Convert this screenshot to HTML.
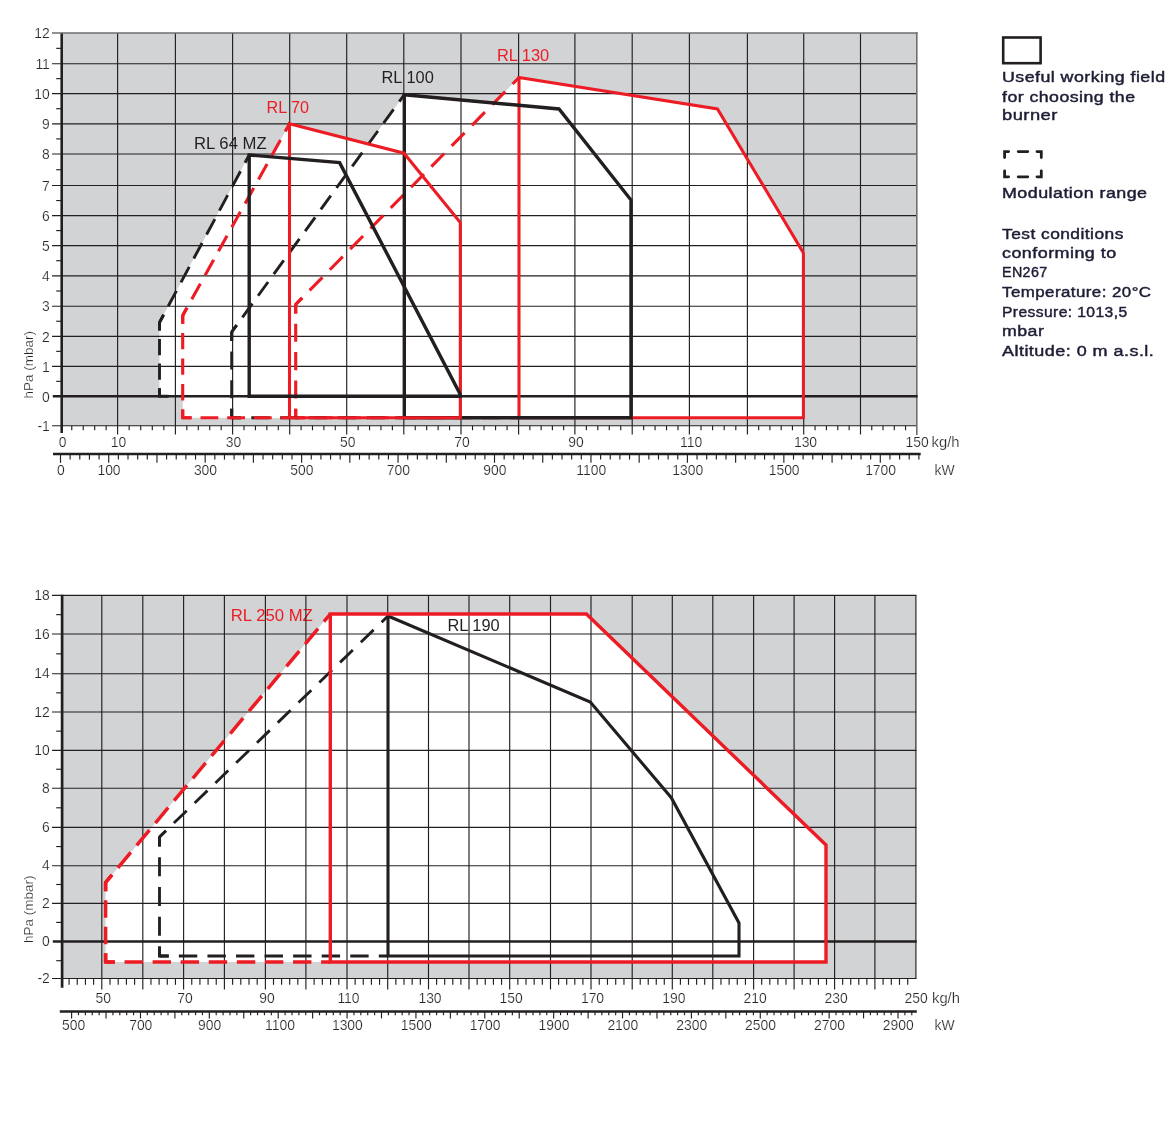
<!DOCTYPE html>
<html><head><meta charset="utf-8"><title>Working fields</title>
<style>
html,body{margin:0;padding:0;background:#fff;}
body{width:1170px;height:1122px;overflow:hidden;font-family:"Liberation Sans",sans-serif;}
svg{display:block;will-change:transform;}
svg text{font-family:"Liberation Sans",sans-serif;}
</style></head><body>
<svg width="1170" height="1122" viewBox="0 0 1170 1122">
<g id="chart1">
<rect x="61.6" y="33.0" width="855.2" height="392.7" fill="#d1d3d4"/>
<polygon points="249.2,396.3 159.5,396.3 159.5,322.5 249.2,155.0 339.6,162.6 460.3,394.5 460.3,396.3 249.2,396.3" fill="#fff"/>
<polygon points="289.5,417.8 182.7,417.8 182.7,315.5 289.5,123.7 404.0,153.2 460.3,222.5 460.3,417.8 289.5,417.8" fill="#fff"/>
<polygon points="404.3,417.8 231.7,417.8 231.7,332.0 404.3,94.7 559.0,109.0 631.0,200.0 631.0,417.8 404.3,417.8" fill="#fff"/>
<polygon points="519.0,417.8 295.7,417.8 295.7,304.5 519.0,77.5 717.5,109.0 803.4,253.0 803.4,417.8 519.0,417.8" fill="#fff"/>
<text x="194" y="148.7" font-size="16.3" fill="#231f20" textLength="72.7" lengthAdjust="spacingAndGlyphs">RL 64 MZ</text>
<text x="266.5" y="112.9" font-size="16.3" fill="#ed1c24" textLength="42.5" lengthAdjust="spacingAndGlyphs">RL 70</text>
<text x="381.5" y="82.6" font-size="16.3" fill="#231f20" textLength="52.3" lengthAdjust="spacingAndGlyphs">RL 100</text>
<text x="496.9" y="60.8" font-size="16.3" fill="#ed1c24" textLength="52.3" lengthAdjust="spacingAndGlyphs">RL 130</text>
<line x1="117.60" y1="33.00" x2="117.60" y2="425.70" stroke="#231f20" stroke-width="1.15"/>
<line x1="175.40" y1="33.00" x2="175.40" y2="425.70" stroke="#231f20" stroke-width="1.15"/>
<line x1="232.60" y1="33.00" x2="232.60" y2="425.70" stroke="#231f20" stroke-width="1.15"/>
<line x1="289.70" y1="33.00" x2="289.70" y2="425.70" stroke="#231f20" stroke-width="1.15"/>
<line x1="346.70" y1="33.00" x2="346.70" y2="425.70" stroke="#231f20" stroke-width="1.15"/>
<line x1="403.80" y1="33.00" x2="403.80" y2="425.70" stroke="#231f20" stroke-width="1.15"/>
<line x1="461.00" y1="33.00" x2="461.00" y2="425.70" stroke="#231f20" stroke-width="1.15"/>
<line x1="518.60" y1="33.00" x2="518.60" y2="425.70" stroke="#231f20" stroke-width="1.15"/>
<line x1="574.90" y1="33.00" x2="574.90" y2="425.70" stroke="#231f20" stroke-width="1.15"/>
<line x1="632.20" y1="33.00" x2="632.20" y2="425.70" stroke="#231f20" stroke-width="1.15"/>
<line x1="689.40" y1="33.00" x2="689.40" y2="425.70" stroke="#231f20" stroke-width="1.15"/>
<line x1="747.40" y1="33.00" x2="747.40" y2="425.70" stroke="#231f20" stroke-width="1.15"/>
<line x1="803.70" y1="33.00" x2="803.70" y2="425.70" stroke="#231f20" stroke-width="1.15"/>
<line x1="860.50" y1="33.00" x2="860.50" y2="425.70" stroke="#231f20" stroke-width="1.15"/>
<line x1="916.80" y1="32.30" x2="916.80" y2="435.00" stroke="#6d6e71" stroke-width="1.6"/>
<line x1="52.00" y1="425.70" x2="916.00" y2="425.70" stroke="#231f20" stroke-width="1.15"/>
<line x1="52.00" y1="366.40" x2="916.00" y2="366.40" stroke="#231f20" stroke-width="1.15"/>
<line x1="52.00" y1="336.30" x2="916.00" y2="336.30" stroke="#231f20" stroke-width="1.15"/>
<line x1="52.00" y1="306.20" x2="916.00" y2="306.20" stroke="#231f20" stroke-width="1.15"/>
<line x1="52.00" y1="275.80" x2="916.00" y2="275.80" stroke="#231f20" stroke-width="1.15"/>
<line x1="52.00" y1="245.60" x2="916.00" y2="245.60" stroke="#231f20" stroke-width="1.15"/>
<line x1="52.00" y1="215.60" x2="916.00" y2="215.60" stroke="#231f20" stroke-width="1.15"/>
<line x1="52.00" y1="185.50" x2="916.00" y2="185.50" stroke="#231f20" stroke-width="1.15"/>
<line x1="52.00" y1="154.00" x2="916.00" y2="154.00" stroke="#231f20" stroke-width="1.15"/>
<line x1="52.00" y1="123.80" x2="916.00" y2="123.80" stroke="#231f20" stroke-width="1.15"/>
<line x1="52.00" y1="93.60" x2="916.00" y2="93.60" stroke="#231f20" stroke-width="1.15"/>
<line x1="52.00" y1="63.70" x2="916.00" y2="63.70" stroke="#231f20" stroke-width="1.15"/>
<line x1="52.00" y1="33.00" x2="917.60" y2="33.00" stroke="#6d6e71" stroke-width="1.5"/>
<line x1="56.20" y1="381.35" x2="61.60" y2="381.35" stroke="#231f20" stroke-width="1.15"/>
<line x1="56.20" y1="351.35" x2="61.60" y2="351.35" stroke="#231f20" stroke-width="1.15"/>
<line x1="56.20" y1="321.25" x2="61.60" y2="321.25" stroke="#231f20" stroke-width="1.15"/>
<line x1="56.20" y1="291.00" x2="61.60" y2="291.00" stroke="#231f20" stroke-width="1.15"/>
<line x1="56.20" y1="260.70" x2="61.60" y2="260.70" stroke="#231f20" stroke-width="1.15"/>
<line x1="56.20" y1="230.60" x2="61.60" y2="230.60" stroke="#231f20" stroke-width="1.15"/>
<line x1="56.20" y1="200.55" x2="61.60" y2="200.55" stroke="#231f20" stroke-width="1.15"/>
<line x1="56.20" y1="169.75" x2="61.60" y2="169.75" stroke="#231f20" stroke-width="1.15"/>
<line x1="56.20" y1="138.90" x2="61.60" y2="138.90" stroke="#231f20" stroke-width="1.15"/>
<line x1="56.20" y1="108.70" x2="61.60" y2="108.70" stroke="#231f20" stroke-width="1.15"/>
<line x1="56.20" y1="78.65" x2="61.60" y2="78.65" stroke="#231f20" stroke-width="1.15"/>
<line x1="56.20" y1="48.35" x2="61.60" y2="48.35" stroke="#231f20" stroke-width="1.15"/>
<line x1="61.70" y1="33.60" x2="61.70" y2="433.00" stroke="#231f20" stroke-width="2.6"/>
<line x1="71.76" y1="425.70" x2="71.76" y2="430.30" stroke="#231f20" stroke-width="1.15"/>
<line x1="83.22" y1="425.70" x2="83.22" y2="430.30" stroke="#231f20" stroke-width="1.15"/>
<line x1="94.68" y1="425.70" x2="94.68" y2="430.30" stroke="#231f20" stroke-width="1.15"/>
<line x1="106.14" y1="425.70" x2="106.14" y2="430.30" stroke="#231f20" stroke-width="1.15"/>
<line x1="117.60" y1="425.70" x2="117.60" y2="434.50" stroke="#231f20" stroke-width="1.15"/>
<line x1="129.16" y1="425.70" x2="129.16" y2="430.30" stroke="#231f20" stroke-width="1.15"/>
<line x1="140.72" y1="425.70" x2="140.72" y2="430.30" stroke="#231f20" stroke-width="1.15"/>
<line x1="152.28" y1="425.70" x2="152.28" y2="430.30" stroke="#231f20" stroke-width="1.15"/>
<line x1="163.84" y1="425.70" x2="163.84" y2="430.30" stroke="#231f20" stroke-width="1.15"/>
<line x1="175.40" y1="425.70" x2="175.40" y2="434.50" stroke="#231f20" stroke-width="1.15"/>
<line x1="186.84" y1="425.70" x2="186.84" y2="430.30" stroke="#231f20" stroke-width="1.15"/>
<line x1="198.28" y1="425.70" x2="198.28" y2="430.30" stroke="#231f20" stroke-width="1.15"/>
<line x1="209.72" y1="425.70" x2="209.72" y2="430.30" stroke="#231f20" stroke-width="1.15"/>
<line x1="221.16" y1="425.70" x2="221.16" y2="430.30" stroke="#231f20" stroke-width="1.15"/>
<line x1="232.60" y1="425.70" x2="232.60" y2="434.50" stroke="#231f20" stroke-width="1.15"/>
<line x1="244.02" y1="425.70" x2="244.02" y2="430.30" stroke="#231f20" stroke-width="1.15"/>
<line x1="255.44" y1="425.70" x2="255.44" y2="430.30" stroke="#231f20" stroke-width="1.15"/>
<line x1="266.86" y1="425.70" x2="266.86" y2="430.30" stroke="#231f20" stroke-width="1.15"/>
<line x1="278.28" y1="425.70" x2="278.28" y2="430.30" stroke="#231f20" stroke-width="1.15"/>
<line x1="289.70" y1="425.70" x2="289.70" y2="434.50" stroke="#231f20" stroke-width="1.15"/>
<line x1="301.10" y1="425.70" x2="301.10" y2="430.30" stroke="#231f20" stroke-width="1.15"/>
<line x1="312.50" y1="425.70" x2="312.50" y2="430.30" stroke="#231f20" stroke-width="1.15"/>
<line x1="323.90" y1="425.70" x2="323.90" y2="430.30" stroke="#231f20" stroke-width="1.15"/>
<line x1="335.30" y1="425.70" x2="335.30" y2="430.30" stroke="#231f20" stroke-width="1.15"/>
<line x1="346.70" y1="425.70" x2="346.70" y2="434.50" stroke="#231f20" stroke-width="1.15"/>
<line x1="358.12" y1="425.70" x2="358.12" y2="430.30" stroke="#231f20" stroke-width="1.15"/>
<line x1="369.54" y1="425.70" x2="369.54" y2="430.30" stroke="#231f20" stroke-width="1.15"/>
<line x1="380.96" y1="425.70" x2="380.96" y2="430.30" stroke="#231f20" stroke-width="1.15"/>
<line x1="392.38" y1="425.70" x2="392.38" y2="430.30" stroke="#231f20" stroke-width="1.15"/>
<line x1="403.80" y1="425.70" x2="403.80" y2="434.50" stroke="#231f20" stroke-width="1.15"/>
<line x1="415.24" y1="425.70" x2="415.24" y2="430.30" stroke="#231f20" stroke-width="1.15"/>
<line x1="426.68" y1="425.70" x2="426.68" y2="430.30" stroke="#231f20" stroke-width="1.15"/>
<line x1="438.12" y1="425.70" x2="438.12" y2="430.30" stroke="#231f20" stroke-width="1.15"/>
<line x1="449.56" y1="425.70" x2="449.56" y2="430.30" stroke="#231f20" stroke-width="1.15"/>
<line x1="461.00" y1="425.70" x2="461.00" y2="434.50" stroke="#231f20" stroke-width="1.15"/>
<line x1="472.52" y1="425.70" x2="472.52" y2="430.30" stroke="#231f20" stroke-width="1.15"/>
<line x1="484.04" y1="425.70" x2="484.04" y2="430.30" stroke="#231f20" stroke-width="1.15"/>
<line x1="495.56" y1="425.70" x2="495.56" y2="430.30" stroke="#231f20" stroke-width="1.15"/>
<line x1="507.08" y1="425.70" x2="507.08" y2="430.30" stroke="#231f20" stroke-width="1.15"/>
<line x1="518.60" y1="425.70" x2="518.60" y2="434.50" stroke="#231f20" stroke-width="1.15"/>
<line x1="529.86" y1="425.70" x2="529.86" y2="430.30" stroke="#231f20" stroke-width="1.15"/>
<line x1="541.12" y1="425.70" x2="541.12" y2="430.30" stroke="#231f20" stroke-width="1.15"/>
<line x1="552.38" y1="425.70" x2="552.38" y2="430.30" stroke="#231f20" stroke-width="1.15"/>
<line x1="563.64" y1="425.70" x2="563.64" y2="430.30" stroke="#231f20" stroke-width="1.15"/>
<line x1="574.90" y1="425.70" x2="574.90" y2="434.50" stroke="#231f20" stroke-width="1.15"/>
<line x1="586.36" y1="425.70" x2="586.36" y2="430.30" stroke="#231f20" stroke-width="1.15"/>
<line x1="597.82" y1="425.70" x2="597.82" y2="430.30" stroke="#231f20" stroke-width="1.15"/>
<line x1="609.28" y1="425.70" x2="609.28" y2="430.30" stroke="#231f20" stroke-width="1.15"/>
<line x1="620.74" y1="425.70" x2="620.74" y2="430.30" stroke="#231f20" stroke-width="1.15"/>
<line x1="632.20" y1="425.70" x2="632.20" y2="434.50" stroke="#231f20" stroke-width="1.15"/>
<line x1="643.64" y1="425.70" x2="643.64" y2="430.30" stroke="#231f20" stroke-width="1.15"/>
<line x1="655.08" y1="425.70" x2="655.08" y2="430.30" stroke="#231f20" stroke-width="1.15"/>
<line x1="666.52" y1="425.70" x2="666.52" y2="430.30" stroke="#231f20" stroke-width="1.15"/>
<line x1="677.96" y1="425.70" x2="677.96" y2="430.30" stroke="#231f20" stroke-width="1.15"/>
<line x1="689.40" y1="425.70" x2="689.40" y2="434.50" stroke="#231f20" stroke-width="1.15"/>
<line x1="701.00" y1="425.70" x2="701.00" y2="430.30" stroke="#231f20" stroke-width="1.15"/>
<line x1="712.60" y1="425.70" x2="712.60" y2="430.30" stroke="#231f20" stroke-width="1.15"/>
<line x1="724.20" y1="425.70" x2="724.20" y2="430.30" stroke="#231f20" stroke-width="1.15"/>
<line x1="735.80" y1="425.70" x2="735.80" y2="430.30" stroke="#231f20" stroke-width="1.15"/>
<line x1="747.40" y1="425.70" x2="747.40" y2="434.50" stroke="#231f20" stroke-width="1.15"/>
<line x1="758.66" y1="425.70" x2="758.66" y2="430.30" stroke="#231f20" stroke-width="1.15"/>
<line x1="769.92" y1="425.70" x2="769.92" y2="430.30" stroke="#231f20" stroke-width="1.15"/>
<line x1="781.18" y1="425.70" x2="781.18" y2="430.30" stroke="#231f20" stroke-width="1.15"/>
<line x1="792.44" y1="425.70" x2="792.44" y2="430.30" stroke="#231f20" stroke-width="1.15"/>
<line x1="803.70" y1="425.70" x2="803.70" y2="434.50" stroke="#231f20" stroke-width="1.15"/>
<line x1="815.06" y1="425.70" x2="815.06" y2="430.30" stroke="#231f20" stroke-width="1.15"/>
<line x1="826.42" y1="425.70" x2="826.42" y2="430.30" stroke="#231f20" stroke-width="1.15"/>
<line x1="837.78" y1="425.70" x2="837.78" y2="430.30" stroke="#231f20" stroke-width="1.15"/>
<line x1="849.14" y1="425.70" x2="849.14" y2="430.30" stroke="#231f20" stroke-width="1.15"/>
<line x1="860.50" y1="425.70" x2="860.50" y2="434.50" stroke="#231f20" stroke-width="1.15"/>
<line x1="871.76" y1="425.70" x2="871.76" y2="430.30" stroke="#231f20" stroke-width="1.15"/>
<line x1="883.02" y1="425.70" x2="883.02" y2="430.30" stroke="#231f20" stroke-width="1.15"/>
<line x1="894.28" y1="425.70" x2="894.28" y2="430.30" stroke="#231f20" stroke-width="1.15"/>
<line x1="905.54" y1="425.70" x2="905.54" y2="430.30" stroke="#231f20" stroke-width="1.15"/>
<line x1="52.80" y1="396.30" x2="917.60" y2="396.30" stroke="#231f20" stroke-width="2.4"/>
</g>
<g id="curves1">
<line x1="519.0" y1="417.8" x2="295.7" y2="417.8" stroke="#ed1c24" stroke-width="3.1" stroke-dasharray="18.20 9.71" stroke-dashoffset="9.10"/>
<line x1="295.7" y1="417.8" x2="295.7" y2="304.5" stroke="#ed1c24" stroke-width="3.1" stroke-dasharray="18.08 10.25" stroke-dashoffset="9.04"/>
<line x1="295.7" y1="304.5" x2="519.0" y2="77.5" stroke="#ed1c24" stroke-width="3.1" stroke-dasharray="18.40 10.55" stroke-dashoffset="9.20"/>
<polyline points="304.8,417.8 295.7,417.8 295.7,408.8" fill="none" stroke="#ed1c24" stroke-width="3.1" stroke-linejoin="miter"/>
<polyline points="295.7,313.5 295.7,304.5 302.2,297.9" fill="none" stroke="#ed1c24" stroke-width="3.1" stroke-linejoin="miter"/>
<polygon points="519.0,77.5 717.5,109.0 803.4,253.0 803.4,417.8 519.0,417.8" fill="none" stroke="#ed1c24" stroke-width="3.05" stroke-linejoin="miter"/>
<line x1="404.3" y1="417.8" x2="231.7" y2="417.8" stroke="#231f20" stroke-width="2.9" stroke-dasharray="18.17 10.60" stroke-dashoffset="9.08"/>
<line x1="231.7" y1="417.8" x2="231.7" y2="332.0" stroke="#231f20" stroke-width="2.9" stroke-dasharray="18.01 10.59" stroke-dashoffset="9.01"/>
<line x1="231.7" y1="332.0" x2="404.3" y2="94.7" stroke="#231f20" stroke-width="2.9" stroke-dasharray="16.98 9.69" stroke-dashoffset="8.49"/>
<polyline points="240.8,417.8 231.7,417.8 231.7,408.8" fill="none" stroke="#231f20" stroke-width="2.9" stroke-linejoin="miter"/>
<polyline points="231.7,341.0 231.7,332.0 236.7,325.1" fill="none" stroke="#231f20" stroke-width="2.9" stroke-linejoin="miter"/>
<polygon points="404.3,94.7 559.0,109.0 631.0,200.0 631.0,417.8 404.3,417.8" fill="none" stroke="#231f20" stroke-width="3.4" stroke-linejoin="miter"/>
<line x1="289.5" y1="417.8" x2="182.7" y2="417.8" stroke="#ed1c24" stroke-width="3.1" stroke-dasharray="17.80 8.90" stroke-dashoffset="8.90"/>
<line x1="182.7" y1="417.8" x2="182.7" y2="315.5" stroke="#ed1c24" stroke-width="3.1" stroke-dasharray="16.36 9.22" stroke-dashoffset="8.18"/>
<line x1="182.7" y1="315.5" x2="289.5" y2="123.7" stroke="#ed1c24" stroke-width="3.1" stroke-dasharray="17.73 9.71" stroke-dashoffset="8.87"/>
<polyline points="191.6,417.8 182.7,417.8 182.7,409.6" fill="none" stroke="#ed1c24" stroke-width="3.1" stroke-linejoin="miter"/>
<polyline points="182.7,323.7 182.7,315.5 187.0,307.8" fill="none" stroke="#ed1c24" stroke-width="3.1" stroke-linejoin="miter"/>
<polygon points="289.5,123.7 404.0,153.2 460.3,222.5 460.3,417.8 289.5,417.8" fill="none" stroke="#ed1c24" stroke-width="3.05" stroke-linejoin="miter"/>
<line x1="159.5" y1="396.3" x2="159.5" y2="322.5" stroke="#231f20" stroke-width="2.9" stroke-dasharray="16.17 8.43" stroke-dashoffset="8.08"/>
<line x1="159.5" y1="322.5" x2="249.2" y2="155.0" stroke="#231f20" stroke-width="2.9" stroke-dasharray="17.53 9.61" stroke-dashoffset="8.77"/>
<polyline points="168.5,396.3 159.5,396.3 159.5,388.2" fill="none" stroke="#231f20" stroke-width="2.9" stroke-linejoin="miter"/>
<polyline points="159.5,330.6 159.5,322.5 163.6,314.8" fill="none" stroke="#231f20" stroke-width="2.9" stroke-linejoin="miter"/>
<polygon points="249.2,155.0 339.6,162.6 460.3,394.5 460.3,396.3 249.2,396.3" fill="none" stroke="#231f20" stroke-width="3.4" stroke-linejoin="miter"/>
</g>
<g id="labels1">
<text x="49.80" y="430.90" font-size="13.9" text-anchor="end" fill="#262628" stroke="#fff" stroke-width="0.2">-1</text>
<text x="49.80" y="401.50" font-size="13.9" text-anchor="end" fill="#262628" stroke="#fff" stroke-width="0.2">0</text>
<text x="49.80" y="371.60" font-size="13.9" text-anchor="end" fill="#262628" stroke="#fff" stroke-width="0.2">1</text>
<text x="49.80" y="341.50" font-size="13.9" text-anchor="end" fill="#262628" stroke="#fff" stroke-width="0.2">2</text>
<text x="49.80" y="311.40" font-size="13.9" text-anchor="end" fill="#262628" stroke="#fff" stroke-width="0.2">3</text>
<text x="49.80" y="281.00" font-size="13.9" text-anchor="end" fill="#262628" stroke="#fff" stroke-width="0.2">4</text>
<text x="49.80" y="250.80" font-size="13.9" text-anchor="end" fill="#262628" stroke="#fff" stroke-width="0.2">5</text>
<text x="49.80" y="220.80" font-size="13.9" text-anchor="end" fill="#262628" stroke="#fff" stroke-width="0.2">6</text>
<text x="49.80" y="190.70" font-size="13.9" text-anchor="end" fill="#262628" stroke="#fff" stroke-width="0.2">7</text>
<text x="49.80" y="159.20" font-size="13.9" text-anchor="end" fill="#262628" stroke="#fff" stroke-width="0.2">8</text>
<text x="49.80" y="129.00" font-size="13.9" text-anchor="end" fill="#262628" stroke="#fff" stroke-width="0.2">9</text>
<text x="49.80" y="98.80" font-size="13.9" text-anchor="end" fill="#262628" stroke="#fff" stroke-width="0.2">10</text>
<text x="49.80" y="68.90" font-size="13.9" text-anchor="end" fill="#262628" stroke="#fff" stroke-width="0.2">11</text>
<text x="49.80" y="38.20" font-size="13.9" text-anchor="end" fill="#262628" stroke="#fff" stroke-width="0.2">12</text>
<text x="62.60" y="447.20" font-size="13.9" text-anchor="middle" fill="#262628" stroke="#fff" stroke-width="0.2">0</text>
<text x="118.60" y="447.20" font-size="13.9" text-anchor="middle" fill="#262628" stroke="#fff" stroke-width="0.2">10</text>
<text x="233.60" y="447.20" font-size="13.9" text-anchor="middle" fill="#262628" stroke="#fff" stroke-width="0.2">30</text>
<text x="347.70" y="447.20" font-size="13.9" text-anchor="middle" fill="#262628" stroke="#fff" stroke-width="0.2">50</text>
<text x="462.00" y="447.20" font-size="13.9" text-anchor="middle" fill="#262628" stroke="#fff" stroke-width="0.2">70</text>
<text x="575.90" y="447.20" font-size="13.9" text-anchor="middle" fill="#262628" stroke="#fff" stroke-width="0.2">90</text>
<text x="691.20" y="447.20" font-size="13.9" text-anchor="middle" fill="#262628" stroke="#fff" stroke-width="0.2">110</text>
<text x="805.50" y="447.20" font-size="13.9" text-anchor="middle" fill="#262628" stroke="#fff" stroke-width="0.2">130</text>
<text x="928.70" y="447.20" font-size="13.9" text-anchor="end" fill="#262628" stroke="#fff" stroke-width="0.2">150</text>
<text x="931.60" y="447.20" font-size="13.9" text-anchor="start" fill="#262628" stroke="#fff" stroke-width="0.2" textLength="27.9" lengthAdjust="spacingAndGlyphs">kg/h</text>
<line x1="53.00" y1="454.10" x2="920.70" y2="454.10" stroke="#231f20" stroke-width="2.5"/>
<line x1="60.50" y1="454.10" x2="60.50" y2="462.80" stroke="#231f20" stroke-width="1.15"/>
<line x1="70.14" y1="454.10" x2="70.14" y2="459.60" stroke="#231f20" stroke-width="1.15"/>
<line x1="79.79" y1="454.10" x2="79.79" y2="459.60" stroke="#231f20" stroke-width="1.15"/>
<line x1="89.43" y1="454.10" x2="89.43" y2="459.60" stroke="#231f20" stroke-width="1.15"/>
<line x1="99.08" y1="454.10" x2="99.08" y2="459.60" stroke="#231f20" stroke-width="1.15"/>
<line x1="108.72" y1="454.10" x2="108.72" y2="462.80" stroke="#231f20" stroke-width="1.15"/>
<line x1="118.37" y1="454.10" x2="118.37" y2="459.60" stroke="#231f20" stroke-width="1.15"/>
<line x1="128.01" y1="454.10" x2="128.01" y2="459.60" stroke="#231f20" stroke-width="1.15"/>
<line x1="137.66" y1="454.10" x2="137.66" y2="459.60" stroke="#231f20" stroke-width="1.15"/>
<line x1="147.30" y1="454.10" x2="147.30" y2="459.60" stroke="#231f20" stroke-width="1.15"/>
<line x1="156.95" y1="454.10" x2="156.95" y2="462.80" stroke="#231f20" stroke-width="1.15"/>
<line x1="166.59" y1="454.10" x2="166.59" y2="459.60" stroke="#231f20" stroke-width="1.15"/>
<line x1="176.24" y1="454.10" x2="176.24" y2="459.60" stroke="#231f20" stroke-width="1.15"/>
<line x1="185.88" y1="454.10" x2="185.88" y2="459.60" stroke="#231f20" stroke-width="1.15"/>
<line x1="195.53" y1="454.10" x2="195.53" y2="459.60" stroke="#231f20" stroke-width="1.15"/>
<line x1="205.17" y1="454.10" x2="205.17" y2="462.80" stroke="#231f20" stroke-width="1.15"/>
<line x1="214.82" y1="454.10" x2="214.82" y2="459.60" stroke="#231f20" stroke-width="1.15"/>
<line x1="224.46" y1="454.10" x2="224.46" y2="459.60" stroke="#231f20" stroke-width="1.15"/>
<line x1="234.10" y1="454.10" x2="234.10" y2="459.60" stroke="#231f20" stroke-width="1.15"/>
<line x1="243.75" y1="454.10" x2="243.75" y2="459.60" stroke="#231f20" stroke-width="1.15"/>
<line x1="253.39" y1="454.10" x2="253.39" y2="462.80" stroke="#231f20" stroke-width="1.15"/>
<line x1="263.04" y1="454.10" x2="263.04" y2="459.60" stroke="#231f20" stroke-width="1.15"/>
<line x1="272.68" y1="454.10" x2="272.68" y2="459.60" stroke="#231f20" stroke-width="1.15"/>
<line x1="282.33" y1="454.10" x2="282.33" y2="459.60" stroke="#231f20" stroke-width="1.15"/>
<line x1="291.97" y1="454.10" x2="291.97" y2="459.60" stroke="#231f20" stroke-width="1.15"/>
<line x1="301.62" y1="454.10" x2="301.62" y2="462.80" stroke="#231f20" stroke-width="1.15"/>
<line x1="311.26" y1="454.10" x2="311.26" y2="459.60" stroke="#231f20" stroke-width="1.15"/>
<line x1="320.91" y1="454.10" x2="320.91" y2="459.60" stroke="#231f20" stroke-width="1.15"/>
<line x1="330.55" y1="454.10" x2="330.55" y2="459.60" stroke="#231f20" stroke-width="1.15"/>
<line x1="340.20" y1="454.10" x2="340.20" y2="459.60" stroke="#231f20" stroke-width="1.15"/>
<line x1="349.84" y1="454.10" x2="349.84" y2="462.80" stroke="#231f20" stroke-width="1.15"/>
<line x1="359.49" y1="454.10" x2="359.49" y2="459.60" stroke="#231f20" stroke-width="1.15"/>
<line x1="369.13" y1="454.10" x2="369.13" y2="459.60" stroke="#231f20" stroke-width="1.15"/>
<line x1="378.78" y1="454.10" x2="378.78" y2="459.60" stroke="#231f20" stroke-width="1.15"/>
<line x1="388.42" y1="454.10" x2="388.42" y2="459.60" stroke="#231f20" stroke-width="1.15"/>
<line x1="398.06" y1="454.10" x2="398.06" y2="462.80" stroke="#231f20" stroke-width="1.15"/>
<line x1="407.71" y1="454.10" x2="407.71" y2="459.60" stroke="#231f20" stroke-width="1.15"/>
<line x1="417.35" y1="454.10" x2="417.35" y2="459.60" stroke="#231f20" stroke-width="1.15"/>
<line x1="427.00" y1="454.10" x2="427.00" y2="459.60" stroke="#231f20" stroke-width="1.15"/>
<line x1="436.64" y1="454.10" x2="436.64" y2="459.60" stroke="#231f20" stroke-width="1.15"/>
<line x1="446.29" y1="454.10" x2="446.29" y2="462.80" stroke="#231f20" stroke-width="1.15"/>
<line x1="455.93" y1="454.10" x2="455.93" y2="459.60" stroke="#231f20" stroke-width="1.15"/>
<line x1="465.58" y1="454.10" x2="465.58" y2="459.60" stroke="#231f20" stroke-width="1.15"/>
<line x1="475.22" y1="454.10" x2="475.22" y2="459.60" stroke="#231f20" stroke-width="1.15"/>
<line x1="484.87" y1="454.10" x2="484.87" y2="459.60" stroke="#231f20" stroke-width="1.15"/>
<line x1="494.51" y1="454.10" x2="494.51" y2="462.80" stroke="#231f20" stroke-width="1.15"/>
<line x1="504.16" y1="454.10" x2="504.16" y2="459.60" stroke="#231f20" stroke-width="1.15"/>
<line x1="513.80" y1="454.10" x2="513.80" y2="459.60" stroke="#231f20" stroke-width="1.15"/>
<line x1="523.45" y1="454.10" x2="523.45" y2="459.60" stroke="#231f20" stroke-width="1.15"/>
<line x1="533.09" y1="454.10" x2="533.09" y2="459.60" stroke="#231f20" stroke-width="1.15"/>
<line x1="542.74" y1="454.10" x2="542.74" y2="462.80" stroke="#231f20" stroke-width="1.15"/>
<line x1="552.38" y1="454.10" x2="552.38" y2="459.60" stroke="#231f20" stroke-width="1.15"/>
<line x1="562.02" y1="454.10" x2="562.02" y2="459.60" stroke="#231f20" stroke-width="1.15"/>
<line x1="571.67" y1="454.10" x2="571.67" y2="459.60" stroke="#231f20" stroke-width="1.15"/>
<line x1="581.31" y1="454.10" x2="581.31" y2="459.60" stroke="#231f20" stroke-width="1.15"/>
<line x1="590.96" y1="454.10" x2="590.96" y2="462.80" stroke="#231f20" stroke-width="1.15"/>
<line x1="600.60" y1="454.10" x2="600.60" y2="459.60" stroke="#231f20" stroke-width="1.15"/>
<line x1="610.25" y1="454.10" x2="610.25" y2="459.60" stroke="#231f20" stroke-width="1.15"/>
<line x1="619.89" y1="454.10" x2="619.89" y2="459.60" stroke="#231f20" stroke-width="1.15"/>
<line x1="629.54" y1="454.10" x2="629.54" y2="459.60" stroke="#231f20" stroke-width="1.15"/>
<line x1="639.18" y1="454.10" x2="639.18" y2="462.80" stroke="#231f20" stroke-width="1.15"/>
<line x1="648.83" y1="454.10" x2="648.83" y2="459.60" stroke="#231f20" stroke-width="1.15"/>
<line x1="658.47" y1="454.10" x2="658.47" y2="459.60" stroke="#231f20" stroke-width="1.15"/>
<line x1="668.12" y1="454.10" x2="668.12" y2="459.60" stroke="#231f20" stroke-width="1.15"/>
<line x1="677.76" y1="454.10" x2="677.76" y2="459.60" stroke="#231f20" stroke-width="1.15"/>
<line x1="687.41" y1="454.10" x2="687.41" y2="462.80" stroke="#231f20" stroke-width="1.15"/>
<line x1="697.05" y1="454.10" x2="697.05" y2="459.60" stroke="#231f20" stroke-width="1.15"/>
<line x1="706.70" y1="454.10" x2="706.70" y2="459.60" stroke="#231f20" stroke-width="1.15"/>
<line x1="716.34" y1="454.10" x2="716.34" y2="459.60" stroke="#231f20" stroke-width="1.15"/>
<line x1="725.98" y1="454.10" x2="725.98" y2="459.60" stroke="#231f20" stroke-width="1.15"/>
<line x1="735.63" y1="454.10" x2="735.63" y2="462.80" stroke="#231f20" stroke-width="1.15"/>
<line x1="745.27" y1="454.10" x2="745.27" y2="459.60" stroke="#231f20" stroke-width="1.15"/>
<line x1="754.92" y1="454.10" x2="754.92" y2="459.60" stroke="#231f20" stroke-width="1.15"/>
<line x1="764.56" y1="454.10" x2="764.56" y2="459.60" stroke="#231f20" stroke-width="1.15"/>
<line x1="774.21" y1="454.10" x2="774.21" y2="459.60" stroke="#231f20" stroke-width="1.15"/>
<line x1="783.85" y1="454.10" x2="783.85" y2="462.80" stroke="#231f20" stroke-width="1.15"/>
<line x1="793.50" y1="454.10" x2="793.50" y2="459.60" stroke="#231f20" stroke-width="1.15"/>
<line x1="803.14" y1="454.10" x2="803.14" y2="459.60" stroke="#231f20" stroke-width="1.15"/>
<line x1="812.79" y1="454.10" x2="812.79" y2="459.60" stroke="#231f20" stroke-width="1.15"/>
<line x1="822.43" y1="454.10" x2="822.43" y2="459.60" stroke="#231f20" stroke-width="1.15"/>
<line x1="832.08" y1="454.10" x2="832.08" y2="462.80" stroke="#231f20" stroke-width="1.15"/>
<line x1="841.72" y1="454.10" x2="841.72" y2="459.60" stroke="#231f20" stroke-width="1.15"/>
<line x1="851.37" y1="454.10" x2="851.37" y2="459.60" stroke="#231f20" stroke-width="1.15"/>
<line x1="861.01" y1="454.10" x2="861.01" y2="459.60" stroke="#231f20" stroke-width="1.15"/>
<line x1="870.66" y1="454.10" x2="870.66" y2="459.60" stroke="#231f20" stroke-width="1.15"/>
<line x1="880.30" y1="454.10" x2="880.30" y2="462.80" stroke="#231f20" stroke-width="1.15"/>
<line x1="889.94" y1="454.10" x2="889.94" y2="459.60" stroke="#231f20" stroke-width="1.15"/>
<line x1="899.59" y1="454.10" x2="899.59" y2="459.60" stroke="#231f20" stroke-width="1.15"/>
<line x1="909.23" y1="454.10" x2="909.23" y2="459.60" stroke="#231f20" stroke-width="1.15"/>
<line x1="918.88" y1="454.10" x2="918.88" y2="459.60" stroke="#231f20" stroke-width="1.15"/>
<text x="60.80" y="474.90" font-size="13.9" text-anchor="middle" fill="#262628" stroke="#fff" stroke-width="0.2">0</text>
<text x="109.02" y="474.90" font-size="13.9" text-anchor="middle" fill="#262628" stroke="#fff" stroke-width="0.2">100</text>
<text x="205.47" y="474.90" font-size="13.9" text-anchor="middle" fill="#262628" stroke="#fff" stroke-width="0.2">300</text>
<text x="301.92" y="474.90" font-size="13.9" text-anchor="middle" fill="#262628" stroke="#fff" stroke-width="0.2">500</text>
<text x="398.36" y="474.90" font-size="13.9" text-anchor="middle" fill="#262628" stroke="#fff" stroke-width="0.2">700</text>
<text x="494.81" y="474.90" font-size="13.9" text-anchor="middle" fill="#262628" stroke="#fff" stroke-width="0.2">900</text>
<text x="591.26" y="474.90" font-size="13.9" text-anchor="middle" fill="#262628" stroke="#fff" stroke-width="0.2">1100</text>
<text x="687.71" y="474.90" font-size="13.9" text-anchor="middle" fill="#262628" stroke="#fff" stroke-width="0.2">1300</text>
<text x="784.15" y="474.90" font-size="13.9" text-anchor="middle" fill="#262628" stroke="#fff" stroke-width="0.2">1500</text>
<text x="880.60" y="474.90" font-size="13.9" text-anchor="middle" fill="#262628" stroke="#fff" stroke-width="0.2">1700</text>
<text x="934.50" y="474.90" font-size="13.9" text-anchor="start" fill="#262628" stroke="#fff" stroke-width="0.2">kW</text>
<text transform="translate(32.6,364.8) rotate(-90)" font-size="13.5" text-anchor="middle" fill="#262628" stroke="#fff" stroke-width="0.2">hPa (mbar)</text>
</g>
<g id="chart2">
<rect x="62.0" y="595.3" width="853.9" height="383.2" fill="#d1d3d4"/>
<polygon points="330.3,962.0 105.6,962.0 105.6,882.5 330.3,614.0 586.4,614.0 826.0,845.0 826.0,962.0 330.3,962.0" fill="#fff"/>
<polygon points="388.0,956.0 159.5,956.0 159.5,837.0 388.0,616.0 590.3,702.0 671.3,797.7 739.0,923.0 739.0,956.0 388.0,956.0" fill="#fff"/>
<text x="230.8" y="620.5" font-size="16.3" fill="#ed1c24" textLength="82" lengthAdjust="spacingAndGlyphs">RL 250 MZ</text>
<text x="447.4" y="631" font-size="16.3" fill="#231f20" textLength="52.3" lengthAdjust="spacingAndGlyphs">RL 190</text>
<line x1="101.80" y1="595.30" x2="101.80" y2="978.50" stroke="#231f20" stroke-width="1.15"/>
<line x1="142.80" y1="595.30" x2="142.80" y2="978.50" stroke="#231f20" stroke-width="1.15"/>
<line x1="183.60" y1="595.30" x2="183.60" y2="978.50" stroke="#231f20" stroke-width="1.15"/>
<line x1="224.40" y1="595.30" x2="224.40" y2="978.50" stroke="#231f20" stroke-width="1.15"/>
<line x1="265.40" y1="595.30" x2="265.40" y2="978.50" stroke="#231f20" stroke-width="1.15"/>
<line x1="305.90" y1="595.30" x2="305.90" y2="978.50" stroke="#231f20" stroke-width="1.15"/>
<line x1="347.00" y1="595.30" x2="347.00" y2="978.50" stroke="#231f20" stroke-width="1.15"/>
<line x1="387.70" y1="595.30" x2="387.70" y2="978.50" stroke="#231f20" stroke-width="1.15"/>
<line x1="428.50" y1="595.30" x2="428.50" y2="978.50" stroke="#231f20" stroke-width="1.15"/>
<line x1="469.00" y1="595.30" x2="469.00" y2="978.50" stroke="#231f20" stroke-width="1.15"/>
<line x1="509.70" y1="595.30" x2="509.70" y2="978.50" stroke="#231f20" stroke-width="1.15"/>
<line x1="550.50" y1="595.30" x2="550.50" y2="978.50" stroke="#231f20" stroke-width="1.15"/>
<line x1="591.00" y1="595.30" x2="591.00" y2="978.50" stroke="#231f20" stroke-width="1.15"/>
<line x1="632.20" y1="595.30" x2="632.20" y2="978.50" stroke="#231f20" stroke-width="1.15"/>
<line x1="672.30" y1="595.30" x2="672.30" y2="978.50" stroke="#231f20" stroke-width="1.15"/>
<line x1="712.80" y1="595.30" x2="712.80" y2="978.50" stroke="#231f20" stroke-width="1.15"/>
<line x1="753.60" y1="595.30" x2="753.60" y2="978.50" stroke="#231f20" stroke-width="1.15"/>
<line x1="794.10" y1="595.30" x2="794.10" y2="978.50" stroke="#231f20" stroke-width="1.15"/>
<line x1="834.60" y1="595.30" x2="834.60" y2="978.50" stroke="#231f20" stroke-width="1.15"/>
<line x1="874.90" y1="595.30" x2="874.90" y2="978.50" stroke="#231f20" stroke-width="1.15"/>
<line x1="915.90" y1="595.30" x2="915.90" y2="978.50" stroke="#231f20" stroke-width="1.15"/>
<line x1="52.00" y1="978.50" x2="916.40" y2="978.50" stroke="#231f20" stroke-width="1.15"/>
<line x1="52.00" y1="903.30" x2="916.40" y2="903.30" stroke="#231f20" stroke-width="1.15"/>
<line x1="52.00" y1="865.70" x2="916.40" y2="865.70" stroke="#231f20" stroke-width="1.15"/>
<line x1="52.00" y1="827.40" x2="916.40" y2="827.40" stroke="#231f20" stroke-width="1.15"/>
<line x1="52.00" y1="788.20" x2="916.40" y2="788.20" stroke="#231f20" stroke-width="1.15"/>
<line x1="52.00" y1="750.30" x2="916.40" y2="750.30" stroke="#231f20" stroke-width="1.15"/>
<line x1="52.00" y1="712.00" x2="916.40" y2="712.00" stroke="#231f20" stroke-width="1.15"/>
<line x1="52.00" y1="673.70" x2="916.40" y2="673.70" stroke="#231f20" stroke-width="1.15"/>
<line x1="52.00" y1="634.00" x2="916.40" y2="634.00" stroke="#231f20" stroke-width="1.15"/>
<line x1="52.00" y1="595.30" x2="916.40" y2="595.30" stroke="#231f20" stroke-width="1.15"/>
<line x1="56.20" y1="922.40" x2="62.00" y2="922.40" stroke="#231f20" stroke-width="1.15"/>
<line x1="56.20" y1="884.50" x2="62.00" y2="884.50" stroke="#231f20" stroke-width="1.15"/>
<line x1="56.20" y1="846.55" x2="62.00" y2="846.55" stroke="#231f20" stroke-width="1.15"/>
<line x1="56.20" y1="807.80" x2="62.00" y2="807.80" stroke="#231f20" stroke-width="1.15"/>
<line x1="56.20" y1="769.25" x2="62.00" y2="769.25" stroke="#231f20" stroke-width="1.15"/>
<line x1="56.20" y1="731.15" x2="62.00" y2="731.15" stroke="#231f20" stroke-width="1.15"/>
<line x1="56.20" y1="692.85" x2="62.00" y2="692.85" stroke="#231f20" stroke-width="1.15"/>
<line x1="56.20" y1="653.85" x2="62.00" y2="653.85" stroke="#231f20" stroke-width="1.15"/>
<line x1="56.20" y1="614.65" x2="62.00" y2="614.65" stroke="#231f20" stroke-width="1.15"/>
<line x1="56.20" y1="960.70" x2="62.00" y2="960.70" stroke="#231f20" stroke-width="1.15"/>
<line x1="62.10" y1="594.80" x2="62.10" y2="987.80" stroke="#231f20" stroke-width="2.7"/>
<line x1="69.08" y1="978.50" x2="69.08" y2="984.80" stroke="#231f20" stroke-width="1.15"/>
<line x1="77.26" y1="978.50" x2="77.26" y2="984.80" stroke="#231f20" stroke-width="1.15"/>
<line x1="85.44" y1="978.50" x2="85.44" y2="984.80" stroke="#231f20" stroke-width="1.15"/>
<line x1="93.62" y1="978.50" x2="93.62" y2="984.80" stroke="#231f20" stroke-width="1.15"/>
<line x1="101.80" y1="978.50" x2="101.80" y2="989.40" stroke="#231f20" stroke-width="1.15"/>
<line x1="110.00" y1="978.50" x2="110.00" y2="984.80" stroke="#231f20" stroke-width="1.15"/>
<line x1="118.20" y1="978.50" x2="118.20" y2="984.80" stroke="#231f20" stroke-width="1.15"/>
<line x1="126.40" y1="978.50" x2="126.40" y2="984.80" stroke="#231f20" stroke-width="1.15"/>
<line x1="134.60" y1="978.50" x2="134.60" y2="984.80" stroke="#231f20" stroke-width="1.15"/>
<line x1="142.80" y1="978.50" x2="142.80" y2="989.40" stroke="#231f20" stroke-width="1.15"/>
<line x1="150.96" y1="978.50" x2="150.96" y2="984.80" stroke="#231f20" stroke-width="1.15"/>
<line x1="159.12" y1="978.50" x2="159.12" y2="984.80" stroke="#231f20" stroke-width="1.15"/>
<line x1="167.28" y1="978.50" x2="167.28" y2="984.80" stroke="#231f20" stroke-width="1.15"/>
<line x1="175.44" y1="978.50" x2="175.44" y2="984.80" stroke="#231f20" stroke-width="1.15"/>
<line x1="183.60" y1="978.50" x2="183.60" y2="989.40" stroke="#231f20" stroke-width="1.15"/>
<line x1="191.76" y1="978.50" x2="191.76" y2="984.80" stroke="#231f20" stroke-width="1.15"/>
<line x1="199.92" y1="978.50" x2="199.92" y2="984.80" stroke="#231f20" stroke-width="1.15"/>
<line x1="208.08" y1="978.50" x2="208.08" y2="984.80" stroke="#231f20" stroke-width="1.15"/>
<line x1="216.24" y1="978.50" x2="216.24" y2="984.80" stroke="#231f20" stroke-width="1.15"/>
<line x1="224.40" y1="978.50" x2="224.40" y2="989.40" stroke="#231f20" stroke-width="1.15"/>
<line x1="232.60" y1="978.50" x2="232.60" y2="984.80" stroke="#231f20" stroke-width="1.15"/>
<line x1="240.80" y1="978.50" x2="240.80" y2="984.80" stroke="#231f20" stroke-width="1.15"/>
<line x1="249.00" y1="978.50" x2="249.00" y2="984.80" stroke="#231f20" stroke-width="1.15"/>
<line x1="257.20" y1="978.50" x2="257.20" y2="984.80" stroke="#231f20" stroke-width="1.15"/>
<line x1="265.40" y1="978.50" x2="265.40" y2="989.40" stroke="#231f20" stroke-width="1.15"/>
<line x1="273.50" y1="978.50" x2="273.50" y2="984.80" stroke="#231f20" stroke-width="1.15"/>
<line x1="281.60" y1="978.50" x2="281.60" y2="984.80" stroke="#231f20" stroke-width="1.15"/>
<line x1="289.70" y1="978.50" x2="289.70" y2="984.80" stroke="#231f20" stroke-width="1.15"/>
<line x1="297.80" y1="978.50" x2="297.80" y2="984.80" stroke="#231f20" stroke-width="1.15"/>
<line x1="305.90" y1="978.50" x2="305.90" y2="989.40" stroke="#231f20" stroke-width="1.15"/>
<line x1="314.12" y1="978.50" x2="314.12" y2="984.80" stroke="#231f20" stroke-width="1.15"/>
<line x1="322.34" y1="978.50" x2="322.34" y2="984.80" stroke="#231f20" stroke-width="1.15"/>
<line x1="330.56" y1="978.50" x2="330.56" y2="984.80" stroke="#231f20" stroke-width="1.15"/>
<line x1="338.78" y1="978.50" x2="338.78" y2="984.80" stroke="#231f20" stroke-width="1.15"/>
<line x1="347.00" y1="978.50" x2="347.00" y2="989.40" stroke="#231f20" stroke-width="1.15"/>
<line x1="355.14" y1="978.50" x2="355.14" y2="984.80" stroke="#231f20" stroke-width="1.15"/>
<line x1="363.28" y1="978.50" x2="363.28" y2="984.80" stroke="#231f20" stroke-width="1.15"/>
<line x1="371.42" y1="978.50" x2="371.42" y2="984.80" stroke="#231f20" stroke-width="1.15"/>
<line x1="379.56" y1="978.50" x2="379.56" y2="984.80" stroke="#231f20" stroke-width="1.15"/>
<line x1="387.70" y1="978.50" x2="387.70" y2="989.40" stroke="#231f20" stroke-width="1.15"/>
<line x1="395.86" y1="978.50" x2="395.86" y2="984.80" stroke="#231f20" stroke-width="1.15"/>
<line x1="404.02" y1="978.50" x2="404.02" y2="984.80" stroke="#231f20" stroke-width="1.15"/>
<line x1="412.18" y1="978.50" x2="412.18" y2="984.80" stroke="#231f20" stroke-width="1.15"/>
<line x1="420.34" y1="978.50" x2="420.34" y2="984.80" stroke="#231f20" stroke-width="1.15"/>
<line x1="428.50" y1="978.50" x2="428.50" y2="989.40" stroke="#231f20" stroke-width="1.15"/>
<line x1="436.60" y1="978.50" x2="436.60" y2="984.80" stroke="#231f20" stroke-width="1.15"/>
<line x1="444.70" y1="978.50" x2="444.70" y2="984.80" stroke="#231f20" stroke-width="1.15"/>
<line x1="452.80" y1="978.50" x2="452.80" y2="984.80" stroke="#231f20" stroke-width="1.15"/>
<line x1="460.90" y1="978.50" x2="460.90" y2="984.80" stroke="#231f20" stroke-width="1.15"/>
<line x1="469.00" y1="978.50" x2="469.00" y2="989.40" stroke="#231f20" stroke-width="1.15"/>
<line x1="477.14" y1="978.50" x2="477.14" y2="984.80" stroke="#231f20" stroke-width="1.15"/>
<line x1="485.28" y1="978.50" x2="485.28" y2="984.80" stroke="#231f20" stroke-width="1.15"/>
<line x1="493.42" y1="978.50" x2="493.42" y2="984.80" stroke="#231f20" stroke-width="1.15"/>
<line x1="501.56" y1="978.50" x2="501.56" y2="984.80" stroke="#231f20" stroke-width="1.15"/>
<line x1="509.70" y1="978.50" x2="509.70" y2="989.40" stroke="#231f20" stroke-width="1.15"/>
<line x1="517.86" y1="978.50" x2="517.86" y2="984.80" stroke="#231f20" stroke-width="1.15"/>
<line x1="526.02" y1="978.50" x2="526.02" y2="984.80" stroke="#231f20" stroke-width="1.15"/>
<line x1="534.18" y1="978.50" x2="534.18" y2="984.80" stroke="#231f20" stroke-width="1.15"/>
<line x1="542.34" y1="978.50" x2="542.34" y2="984.80" stroke="#231f20" stroke-width="1.15"/>
<line x1="550.50" y1="978.50" x2="550.50" y2="989.40" stroke="#231f20" stroke-width="1.15"/>
<line x1="558.60" y1="978.50" x2="558.60" y2="984.80" stroke="#231f20" stroke-width="1.15"/>
<line x1="566.70" y1="978.50" x2="566.70" y2="984.80" stroke="#231f20" stroke-width="1.15"/>
<line x1="574.80" y1="978.50" x2="574.80" y2="984.80" stroke="#231f20" stroke-width="1.15"/>
<line x1="582.90" y1="978.50" x2="582.90" y2="984.80" stroke="#231f20" stroke-width="1.15"/>
<line x1="591.00" y1="978.50" x2="591.00" y2="989.40" stroke="#231f20" stroke-width="1.15"/>
<line x1="599.24" y1="978.50" x2="599.24" y2="984.80" stroke="#231f20" stroke-width="1.15"/>
<line x1="607.48" y1="978.50" x2="607.48" y2="984.80" stroke="#231f20" stroke-width="1.15"/>
<line x1="615.72" y1="978.50" x2="615.72" y2="984.80" stroke="#231f20" stroke-width="1.15"/>
<line x1="623.96" y1="978.50" x2="623.96" y2="984.80" stroke="#231f20" stroke-width="1.15"/>
<line x1="632.20" y1="978.50" x2="632.20" y2="989.40" stroke="#231f20" stroke-width="1.15"/>
<line x1="640.22" y1="978.50" x2="640.22" y2="984.80" stroke="#231f20" stroke-width="1.15"/>
<line x1="648.24" y1="978.50" x2="648.24" y2="984.80" stroke="#231f20" stroke-width="1.15"/>
<line x1="656.26" y1="978.50" x2="656.26" y2="984.80" stroke="#231f20" stroke-width="1.15"/>
<line x1="664.28" y1="978.50" x2="664.28" y2="984.80" stroke="#231f20" stroke-width="1.15"/>
<line x1="672.30" y1="978.50" x2="672.30" y2="989.40" stroke="#231f20" stroke-width="1.15"/>
<line x1="680.40" y1="978.50" x2="680.40" y2="984.80" stroke="#231f20" stroke-width="1.15"/>
<line x1="688.50" y1="978.50" x2="688.50" y2="984.80" stroke="#231f20" stroke-width="1.15"/>
<line x1="696.60" y1="978.50" x2="696.60" y2="984.80" stroke="#231f20" stroke-width="1.15"/>
<line x1="704.70" y1="978.50" x2="704.70" y2="984.80" stroke="#231f20" stroke-width="1.15"/>
<line x1="712.80" y1="978.50" x2="712.80" y2="989.40" stroke="#231f20" stroke-width="1.15"/>
<line x1="720.96" y1="978.50" x2="720.96" y2="984.80" stroke="#231f20" stroke-width="1.15"/>
<line x1="729.12" y1="978.50" x2="729.12" y2="984.80" stroke="#231f20" stroke-width="1.15"/>
<line x1="737.28" y1="978.50" x2="737.28" y2="984.80" stroke="#231f20" stroke-width="1.15"/>
<line x1="745.44" y1="978.50" x2="745.44" y2="984.80" stroke="#231f20" stroke-width="1.15"/>
<line x1="753.60" y1="978.50" x2="753.60" y2="989.40" stroke="#231f20" stroke-width="1.15"/>
<line x1="761.70" y1="978.50" x2="761.70" y2="984.80" stroke="#231f20" stroke-width="1.15"/>
<line x1="769.80" y1="978.50" x2="769.80" y2="984.80" stroke="#231f20" stroke-width="1.15"/>
<line x1="777.90" y1="978.50" x2="777.90" y2="984.80" stroke="#231f20" stroke-width="1.15"/>
<line x1="786.00" y1="978.50" x2="786.00" y2="984.80" stroke="#231f20" stroke-width="1.15"/>
<line x1="794.10" y1="978.50" x2="794.10" y2="989.40" stroke="#231f20" stroke-width="1.15"/>
<line x1="802.20" y1="978.50" x2="802.20" y2="984.80" stroke="#231f20" stroke-width="1.15"/>
<line x1="810.30" y1="978.50" x2="810.30" y2="984.80" stroke="#231f20" stroke-width="1.15"/>
<line x1="818.40" y1="978.50" x2="818.40" y2="984.80" stroke="#231f20" stroke-width="1.15"/>
<line x1="826.50" y1="978.50" x2="826.50" y2="984.80" stroke="#231f20" stroke-width="1.15"/>
<line x1="834.60" y1="978.50" x2="834.60" y2="989.40" stroke="#231f20" stroke-width="1.15"/>
<line x1="842.66" y1="978.50" x2="842.66" y2="984.80" stroke="#231f20" stroke-width="1.15"/>
<line x1="850.72" y1="978.50" x2="850.72" y2="984.80" stroke="#231f20" stroke-width="1.15"/>
<line x1="858.78" y1="978.50" x2="858.78" y2="984.80" stroke="#231f20" stroke-width="1.15"/>
<line x1="866.84" y1="978.50" x2="866.84" y2="984.80" stroke="#231f20" stroke-width="1.15"/>
<line x1="874.90" y1="978.50" x2="874.90" y2="989.40" stroke="#231f20" stroke-width="1.15"/>
<line x1="883.10" y1="978.50" x2="883.10" y2="984.80" stroke="#231f20" stroke-width="1.15"/>
<line x1="891.30" y1="978.50" x2="891.30" y2="984.80" stroke="#231f20" stroke-width="1.15"/>
<line x1="899.50" y1="978.50" x2="899.50" y2="984.80" stroke="#231f20" stroke-width="1.15"/>
<line x1="907.70" y1="978.50" x2="907.70" y2="984.80" stroke="#231f20" stroke-width="1.15"/>
<line x1="52.80" y1="941.50" x2="916.70" y2="941.50" stroke="#231f20" stroke-width="2.4"/>
</g>
<g id="curves2">
<line x1="388.0" y1="956.0" x2="159.5" y2="956.0" stroke="#231f20" stroke-width="2.85" stroke-dasharray="18.41 10.15" stroke-dashoffset="9.21"/>
<line x1="159.5" y1="956.0" x2="159.5" y2="837.0" stroke="#231f20" stroke-width="2.85" stroke-dasharray="19.04 10.71" stroke-dashoffset="9.52"/>
<line x1="159.5" y1="837.0" x2="388.0" y2="616.0" stroke="#231f20" stroke-width="2.85" stroke-dasharray="17.80 11.10" stroke-dashoffset="8.90"/>
<polyline points="168.7,956.0 159.5,956.0 159.5,946.5" fill="none" stroke="#231f20" stroke-width="2.85" stroke-linejoin="miter"/>
<polyline points="159.5,846.5 159.5,837.0 165.9,830.8" fill="none" stroke="#231f20" stroke-width="2.85" stroke-linejoin="miter"/>
<line x1="330.3" y1="962.0" x2="105.6" y2="962.0" stroke="#ed1c24" stroke-width="3.5" stroke-dasharray="18.42 9.66" stroke-dashoffset="9.21"/>
<line x1="105.6" y1="962.0" x2="105.6" y2="882.5" stroke="#ed1c24" stroke-width="3.5" stroke-dasharray="17.60 8.90" stroke-dashoffset="8.80"/>
<line x1="105.6" y1="882.5" x2="330.3" y2="614.0" stroke="#ed1c24" stroke-width="3.5" stroke-dasharray="19.99 9.19" stroke-dashoffset="9.99"/>
<polyline points="114.8,962.0 105.6,962.0 105.6,953.2" fill="none" stroke="#ed1c24" stroke-width="3.5" stroke-linejoin="miter"/>
<polyline points="105.6,891.3 105.6,882.5 112.0,874.8" fill="none" stroke="#ed1c24" stroke-width="3.5" stroke-linejoin="miter"/>
<polygon points="388.0,616.0 590.3,702.0 671.3,797.7 739.0,923.0 739.0,956.0 388.0,956.0" fill="none" stroke="#231f20" stroke-width="3.1" stroke-linejoin="miter"/>
<polygon points="330.3,614.0 586.4,614.0 826.0,845.0 826.0,962.0 330.3,962.0" fill="none" stroke="#ed1c24" stroke-width="3.4" stroke-linejoin="miter"/>
</g>
<g id="labels2">
<text x="49.80" y="983.10" font-size="13.9" text-anchor="end" fill="#262628" stroke="#fff" stroke-width="0.2">-2</text>
<text x="49.80" y="946.10" font-size="13.9" text-anchor="end" fill="#262628" stroke="#fff" stroke-width="0.2">0</text>
<text x="49.80" y="907.90" font-size="13.9" text-anchor="end" fill="#262628" stroke="#fff" stroke-width="0.2">2</text>
<text x="49.80" y="870.30" font-size="13.9" text-anchor="end" fill="#262628" stroke="#fff" stroke-width="0.2">4</text>
<text x="49.80" y="832.00" font-size="13.9" text-anchor="end" fill="#262628" stroke="#fff" stroke-width="0.2">6</text>
<text x="49.80" y="792.80" font-size="13.9" text-anchor="end" fill="#262628" stroke="#fff" stroke-width="0.2">8</text>
<text x="49.80" y="754.90" font-size="13.9" text-anchor="end" fill="#262628" stroke="#fff" stroke-width="0.2">10</text>
<text x="49.80" y="716.60" font-size="13.9" text-anchor="end" fill="#262628" stroke="#fff" stroke-width="0.2">12</text>
<text x="49.80" y="678.30" font-size="13.9" text-anchor="end" fill="#262628" stroke="#fff" stroke-width="0.2">14</text>
<text x="49.80" y="638.60" font-size="13.9" text-anchor="end" fill="#262628" stroke="#fff" stroke-width="0.2">16</text>
<text x="49.80" y="599.90" font-size="13.9" text-anchor="end" fill="#262628" stroke="#fff" stroke-width="0.2">18</text>
<text x="103.30" y="1002.60" font-size="13.9" text-anchor="middle" fill="#262628" stroke="#fff" stroke-width="0.2">50</text>
<text x="185.10" y="1002.60" font-size="13.9" text-anchor="middle" fill="#262628" stroke="#fff" stroke-width="0.2">70</text>
<text x="266.90" y="1002.60" font-size="13.9" text-anchor="middle" fill="#262628" stroke="#fff" stroke-width="0.2">90</text>
<text x="348.50" y="1002.60" font-size="13.9" text-anchor="middle" fill="#262628" stroke="#fff" stroke-width="0.2">110</text>
<text x="430.00" y="1002.60" font-size="13.9" text-anchor="middle" fill="#262628" stroke="#fff" stroke-width="0.2">130</text>
<text x="511.20" y="1002.60" font-size="13.9" text-anchor="middle" fill="#262628" stroke="#fff" stroke-width="0.2">150</text>
<text x="592.50" y="1002.60" font-size="13.9" text-anchor="middle" fill="#262628" stroke="#fff" stroke-width="0.2">170</text>
<text x="673.80" y="1002.60" font-size="13.9" text-anchor="middle" fill="#262628" stroke="#fff" stroke-width="0.2">190</text>
<text x="755.10" y="1002.60" font-size="13.9" text-anchor="middle" fill="#262628" stroke="#fff" stroke-width="0.2">210</text>
<text x="836.10" y="1002.60" font-size="13.9" text-anchor="middle" fill="#262628" stroke="#fff" stroke-width="0.2">230</text>
<text x="927.80" y="1002.60" font-size="13.9" text-anchor="end" fill="#262628" stroke="#fff" stroke-width="0.2">250</text>
<text x="932.00" y="1002.60" font-size="13.9" text-anchor="start" fill="#262628" stroke="#fff" stroke-width="0.2" textLength="27.9" lengthAdjust="spacingAndGlyphs">kg/h</text>
<line x1="59.80" y1="1011.50" x2="916.80" y2="1011.50" stroke="#231f20" stroke-width="2.6"/>
<line x1="71.60" y1="1011.50" x2="71.60" y2="1018.40" stroke="#231f20" stroke-width="1.15"/>
<line x1="78.49" y1="1011.50" x2="78.49" y2="1015.20" stroke="#231f20" stroke-width="1.15"/>
<line x1="85.37" y1="1011.50" x2="85.37" y2="1015.20" stroke="#231f20" stroke-width="1.15"/>
<line x1="92.26" y1="1011.50" x2="92.26" y2="1015.20" stroke="#231f20" stroke-width="1.15"/>
<line x1="99.15" y1="1011.50" x2="99.15" y2="1015.20" stroke="#231f20" stroke-width="1.15"/>
<line x1="106.03" y1="1011.50" x2="106.03" y2="1018.40" stroke="#231f20" stroke-width="1.15"/>
<line x1="112.92" y1="1011.50" x2="112.92" y2="1015.20" stroke="#231f20" stroke-width="1.15"/>
<line x1="119.81" y1="1011.50" x2="119.81" y2="1015.20" stroke="#231f20" stroke-width="1.15"/>
<line x1="126.69" y1="1011.50" x2="126.69" y2="1015.20" stroke="#231f20" stroke-width="1.15"/>
<line x1="133.58" y1="1011.50" x2="133.58" y2="1015.20" stroke="#231f20" stroke-width="1.15"/>
<line x1="140.47" y1="1011.50" x2="140.47" y2="1018.40" stroke="#231f20" stroke-width="1.15"/>
<line x1="147.35" y1="1011.50" x2="147.35" y2="1015.20" stroke="#231f20" stroke-width="1.15"/>
<line x1="154.24" y1="1011.50" x2="154.24" y2="1015.20" stroke="#231f20" stroke-width="1.15"/>
<line x1="161.13" y1="1011.50" x2="161.13" y2="1015.20" stroke="#231f20" stroke-width="1.15"/>
<line x1="168.01" y1="1011.50" x2="168.01" y2="1015.20" stroke="#231f20" stroke-width="1.15"/>
<line x1="174.90" y1="1011.50" x2="174.90" y2="1018.40" stroke="#231f20" stroke-width="1.15"/>
<line x1="181.79" y1="1011.50" x2="181.79" y2="1015.20" stroke="#231f20" stroke-width="1.15"/>
<line x1="188.67" y1="1011.50" x2="188.67" y2="1015.20" stroke="#231f20" stroke-width="1.15"/>
<line x1="195.56" y1="1011.50" x2="195.56" y2="1015.20" stroke="#231f20" stroke-width="1.15"/>
<line x1="202.45" y1="1011.50" x2="202.45" y2="1015.20" stroke="#231f20" stroke-width="1.15"/>
<line x1="209.33" y1="1011.50" x2="209.33" y2="1018.40" stroke="#231f20" stroke-width="1.15"/>
<line x1="216.22" y1="1011.50" x2="216.22" y2="1015.20" stroke="#231f20" stroke-width="1.15"/>
<line x1="223.11" y1="1011.50" x2="223.11" y2="1015.20" stroke="#231f20" stroke-width="1.15"/>
<line x1="229.99" y1="1011.50" x2="229.99" y2="1015.20" stroke="#231f20" stroke-width="1.15"/>
<line x1="236.88" y1="1011.50" x2="236.88" y2="1015.20" stroke="#231f20" stroke-width="1.15"/>
<line x1="243.77" y1="1011.50" x2="243.77" y2="1018.40" stroke="#231f20" stroke-width="1.15"/>
<line x1="250.65" y1="1011.50" x2="250.65" y2="1015.20" stroke="#231f20" stroke-width="1.15"/>
<line x1="257.54" y1="1011.50" x2="257.54" y2="1015.20" stroke="#231f20" stroke-width="1.15"/>
<line x1="264.43" y1="1011.50" x2="264.43" y2="1015.20" stroke="#231f20" stroke-width="1.15"/>
<line x1="271.31" y1="1011.50" x2="271.31" y2="1015.20" stroke="#231f20" stroke-width="1.15"/>
<line x1="278.20" y1="1011.50" x2="278.20" y2="1018.40" stroke="#231f20" stroke-width="1.15"/>
<line x1="285.09" y1="1011.50" x2="285.09" y2="1015.20" stroke="#231f20" stroke-width="1.15"/>
<line x1="291.97" y1="1011.50" x2="291.97" y2="1015.20" stroke="#231f20" stroke-width="1.15"/>
<line x1="298.86" y1="1011.50" x2="298.86" y2="1015.20" stroke="#231f20" stroke-width="1.15"/>
<line x1="305.75" y1="1011.50" x2="305.75" y2="1015.20" stroke="#231f20" stroke-width="1.15"/>
<line x1="312.63" y1="1011.50" x2="312.63" y2="1018.40" stroke="#231f20" stroke-width="1.15"/>
<line x1="319.52" y1="1011.50" x2="319.52" y2="1015.20" stroke="#231f20" stroke-width="1.15"/>
<line x1="326.41" y1="1011.50" x2="326.41" y2="1015.20" stroke="#231f20" stroke-width="1.15"/>
<line x1="333.29" y1="1011.50" x2="333.29" y2="1015.20" stroke="#231f20" stroke-width="1.15"/>
<line x1="340.18" y1="1011.50" x2="340.18" y2="1015.20" stroke="#231f20" stroke-width="1.15"/>
<line x1="347.07" y1="1011.50" x2="347.07" y2="1018.40" stroke="#231f20" stroke-width="1.15"/>
<line x1="353.95" y1="1011.50" x2="353.95" y2="1015.20" stroke="#231f20" stroke-width="1.15"/>
<line x1="360.84" y1="1011.50" x2="360.84" y2="1015.20" stroke="#231f20" stroke-width="1.15"/>
<line x1="367.73" y1="1011.50" x2="367.73" y2="1015.20" stroke="#231f20" stroke-width="1.15"/>
<line x1="374.61" y1="1011.50" x2="374.61" y2="1015.20" stroke="#231f20" stroke-width="1.15"/>
<line x1="381.50" y1="1011.50" x2="381.50" y2="1018.40" stroke="#231f20" stroke-width="1.15"/>
<line x1="388.39" y1="1011.50" x2="388.39" y2="1015.20" stroke="#231f20" stroke-width="1.15"/>
<line x1="395.27" y1="1011.50" x2="395.27" y2="1015.20" stroke="#231f20" stroke-width="1.15"/>
<line x1="402.16" y1="1011.50" x2="402.16" y2="1015.20" stroke="#231f20" stroke-width="1.15"/>
<line x1="409.05" y1="1011.50" x2="409.05" y2="1015.20" stroke="#231f20" stroke-width="1.15"/>
<line x1="415.93" y1="1011.50" x2="415.93" y2="1018.40" stroke="#231f20" stroke-width="1.15"/>
<line x1="422.82" y1="1011.50" x2="422.82" y2="1015.20" stroke="#231f20" stroke-width="1.15"/>
<line x1="429.71" y1="1011.50" x2="429.71" y2="1015.20" stroke="#231f20" stroke-width="1.15"/>
<line x1="436.59" y1="1011.50" x2="436.59" y2="1015.20" stroke="#231f20" stroke-width="1.15"/>
<line x1="443.48" y1="1011.50" x2="443.48" y2="1015.20" stroke="#231f20" stroke-width="1.15"/>
<line x1="450.37" y1="1011.50" x2="450.37" y2="1018.40" stroke="#231f20" stroke-width="1.15"/>
<line x1="457.25" y1="1011.50" x2="457.25" y2="1015.20" stroke="#231f20" stroke-width="1.15"/>
<line x1="464.14" y1="1011.50" x2="464.14" y2="1015.20" stroke="#231f20" stroke-width="1.15"/>
<line x1="471.03" y1="1011.50" x2="471.03" y2="1015.20" stroke="#231f20" stroke-width="1.15"/>
<line x1="477.91" y1="1011.50" x2="477.91" y2="1015.20" stroke="#231f20" stroke-width="1.15"/>
<line x1="484.80" y1="1011.50" x2="484.80" y2="1018.40" stroke="#231f20" stroke-width="1.15"/>
<line x1="491.69" y1="1011.50" x2="491.69" y2="1015.20" stroke="#231f20" stroke-width="1.15"/>
<line x1="498.57" y1="1011.50" x2="498.57" y2="1015.20" stroke="#231f20" stroke-width="1.15"/>
<line x1="505.46" y1="1011.50" x2="505.46" y2="1015.20" stroke="#231f20" stroke-width="1.15"/>
<line x1="512.35" y1="1011.50" x2="512.35" y2="1015.20" stroke="#231f20" stroke-width="1.15"/>
<line x1="519.23" y1="1011.50" x2="519.23" y2="1018.40" stroke="#231f20" stroke-width="1.15"/>
<line x1="526.12" y1="1011.50" x2="526.12" y2="1015.20" stroke="#231f20" stroke-width="1.15"/>
<line x1="533.01" y1="1011.50" x2="533.01" y2="1015.20" stroke="#231f20" stroke-width="1.15"/>
<line x1="539.89" y1="1011.50" x2="539.89" y2="1015.20" stroke="#231f20" stroke-width="1.15"/>
<line x1="546.78" y1="1011.50" x2="546.78" y2="1015.20" stroke="#231f20" stroke-width="1.15"/>
<line x1="553.67" y1="1011.50" x2="553.67" y2="1018.40" stroke="#231f20" stroke-width="1.15"/>
<line x1="560.55" y1="1011.50" x2="560.55" y2="1015.20" stroke="#231f20" stroke-width="1.15"/>
<line x1="567.44" y1="1011.50" x2="567.44" y2="1015.20" stroke="#231f20" stroke-width="1.15"/>
<line x1="574.33" y1="1011.50" x2="574.33" y2="1015.20" stroke="#231f20" stroke-width="1.15"/>
<line x1="581.21" y1="1011.50" x2="581.21" y2="1015.20" stroke="#231f20" stroke-width="1.15"/>
<line x1="588.10" y1="1011.50" x2="588.10" y2="1018.40" stroke="#231f20" stroke-width="1.15"/>
<line x1="594.99" y1="1011.50" x2="594.99" y2="1015.20" stroke="#231f20" stroke-width="1.15"/>
<line x1="601.87" y1="1011.50" x2="601.87" y2="1015.20" stroke="#231f20" stroke-width="1.15"/>
<line x1="608.76" y1="1011.50" x2="608.76" y2="1015.20" stroke="#231f20" stroke-width="1.15"/>
<line x1="615.65" y1="1011.50" x2="615.65" y2="1015.20" stroke="#231f20" stroke-width="1.15"/>
<line x1="622.53" y1="1011.50" x2="622.53" y2="1018.40" stroke="#231f20" stroke-width="1.15"/>
<line x1="629.42" y1="1011.50" x2="629.42" y2="1015.20" stroke="#231f20" stroke-width="1.15"/>
<line x1="636.31" y1="1011.50" x2="636.31" y2="1015.20" stroke="#231f20" stroke-width="1.15"/>
<line x1="643.19" y1="1011.50" x2="643.19" y2="1015.20" stroke="#231f20" stroke-width="1.15"/>
<line x1="650.08" y1="1011.50" x2="650.08" y2="1015.20" stroke="#231f20" stroke-width="1.15"/>
<line x1="656.97" y1="1011.50" x2="656.97" y2="1018.40" stroke="#231f20" stroke-width="1.15"/>
<line x1="663.85" y1="1011.50" x2="663.85" y2="1015.20" stroke="#231f20" stroke-width="1.15"/>
<line x1="670.74" y1="1011.50" x2="670.74" y2="1015.20" stroke="#231f20" stroke-width="1.15"/>
<line x1="677.63" y1="1011.50" x2="677.63" y2="1015.20" stroke="#231f20" stroke-width="1.15"/>
<line x1="684.51" y1="1011.50" x2="684.51" y2="1015.20" stroke="#231f20" stroke-width="1.15"/>
<line x1="691.40" y1="1011.50" x2="691.40" y2="1018.40" stroke="#231f20" stroke-width="1.15"/>
<line x1="698.29" y1="1011.50" x2="698.29" y2="1015.20" stroke="#231f20" stroke-width="1.15"/>
<line x1="705.17" y1="1011.50" x2="705.17" y2="1015.20" stroke="#231f20" stroke-width="1.15"/>
<line x1="712.06" y1="1011.50" x2="712.06" y2="1015.20" stroke="#231f20" stroke-width="1.15"/>
<line x1="718.95" y1="1011.50" x2="718.95" y2="1015.20" stroke="#231f20" stroke-width="1.15"/>
<line x1="725.83" y1="1011.50" x2="725.83" y2="1018.40" stroke="#231f20" stroke-width="1.15"/>
<line x1="732.72" y1="1011.50" x2="732.72" y2="1015.20" stroke="#231f20" stroke-width="1.15"/>
<line x1="739.61" y1="1011.50" x2="739.61" y2="1015.20" stroke="#231f20" stroke-width="1.15"/>
<line x1="746.49" y1="1011.50" x2="746.49" y2="1015.20" stroke="#231f20" stroke-width="1.15"/>
<line x1="753.38" y1="1011.50" x2="753.38" y2="1015.20" stroke="#231f20" stroke-width="1.15"/>
<line x1="760.27" y1="1011.50" x2="760.27" y2="1018.40" stroke="#231f20" stroke-width="1.15"/>
<line x1="767.15" y1="1011.50" x2="767.15" y2="1015.20" stroke="#231f20" stroke-width="1.15"/>
<line x1="774.04" y1="1011.50" x2="774.04" y2="1015.20" stroke="#231f20" stroke-width="1.15"/>
<line x1="780.93" y1="1011.50" x2="780.93" y2="1015.20" stroke="#231f20" stroke-width="1.15"/>
<line x1="787.81" y1="1011.50" x2="787.81" y2="1015.20" stroke="#231f20" stroke-width="1.15"/>
<line x1="794.70" y1="1011.50" x2="794.70" y2="1018.40" stroke="#231f20" stroke-width="1.15"/>
<line x1="801.59" y1="1011.50" x2="801.59" y2="1015.20" stroke="#231f20" stroke-width="1.15"/>
<line x1="808.47" y1="1011.50" x2="808.47" y2="1015.20" stroke="#231f20" stroke-width="1.15"/>
<line x1="815.36" y1="1011.50" x2="815.36" y2="1015.20" stroke="#231f20" stroke-width="1.15"/>
<line x1="822.25" y1="1011.50" x2="822.25" y2="1015.20" stroke="#231f20" stroke-width="1.15"/>
<line x1="829.13" y1="1011.50" x2="829.13" y2="1018.40" stroke="#231f20" stroke-width="1.15"/>
<line x1="836.02" y1="1011.50" x2="836.02" y2="1015.20" stroke="#231f20" stroke-width="1.15"/>
<line x1="842.91" y1="1011.50" x2="842.91" y2="1015.20" stroke="#231f20" stroke-width="1.15"/>
<line x1="849.79" y1="1011.50" x2="849.79" y2="1015.20" stroke="#231f20" stroke-width="1.15"/>
<line x1="856.68" y1="1011.50" x2="856.68" y2="1015.20" stroke="#231f20" stroke-width="1.15"/>
<line x1="863.57" y1="1011.50" x2="863.57" y2="1018.40" stroke="#231f20" stroke-width="1.15"/>
<line x1="870.45" y1="1011.50" x2="870.45" y2="1015.20" stroke="#231f20" stroke-width="1.15"/>
<line x1="877.34" y1="1011.50" x2="877.34" y2="1015.20" stroke="#231f20" stroke-width="1.15"/>
<line x1="884.23" y1="1011.50" x2="884.23" y2="1015.20" stroke="#231f20" stroke-width="1.15"/>
<line x1="891.11" y1="1011.50" x2="891.11" y2="1015.20" stroke="#231f20" stroke-width="1.15"/>
<line x1="898.00" y1="1011.50" x2="898.00" y2="1018.40" stroke="#231f20" stroke-width="1.15"/>
<line x1="904.89" y1="1011.50" x2="904.89" y2="1015.20" stroke="#231f20" stroke-width="1.15"/>
<line x1="911.77" y1="1011.50" x2="911.77" y2="1015.20" stroke="#231f20" stroke-width="1.15"/>
<text x="73.60" y="1030.40" font-size="13.9" text-anchor="middle" fill="#262628" stroke="#fff" stroke-width="0.2">500</text>
<text x="140.77" y="1030.40" font-size="13.9" text-anchor="middle" fill="#262628" stroke="#fff" stroke-width="0.2">700</text>
<text x="209.63" y="1030.40" font-size="13.9" text-anchor="middle" fill="#262628" stroke="#fff" stroke-width="0.2">900</text>
<text x="280.00" y="1030.40" font-size="13.9" text-anchor="middle" fill="#262628" stroke="#fff" stroke-width="0.2">1100</text>
<text x="347.37" y="1030.40" font-size="13.9" text-anchor="middle" fill="#262628" stroke="#fff" stroke-width="0.2">1300</text>
<text x="416.23" y="1030.40" font-size="13.9" text-anchor="middle" fill="#262628" stroke="#fff" stroke-width="0.2">1500</text>
<text x="485.10" y="1030.40" font-size="13.9" text-anchor="middle" fill="#262628" stroke="#fff" stroke-width="0.2">1700</text>
<text x="553.97" y="1030.40" font-size="13.9" text-anchor="middle" fill="#262628" stroke="#fff" stroke-width="0.2">1900</text>
<text x="622.83" y="1030.40" font-size="13.9" text-anchor="middle" fill="#262628" stroke="#fff" stroke-width="0.2">2100</text>
<text x="691.70" y="1030.40" font-size="13.9" text-anchor="middle" fill="#262628" stroke="#fff" stroke-width="0.2">2300</text>
<text x="760.57" y="1030.40" font-size="13.9" text-anchor="middle" fill="#262628" stroke="#fff" stroke-width="0.2">2500</text>
<text x="829.43" y="1030.40" font-size="13.9" text-anchor="middle" fill="#262628" stroke="#fff" stroke-width="0.2">2700</text>
<text x="898.30" y="1030.40" font-size="13.9" text-anchor="middle" fill="#262628" stroke="#fff" stroke-width="0.2">2900</text>
<text x="934.50" y="1030.40" font-size="13.9" text-anchor="start" fill="#262628" stroke="#fff" stroke-width="0.2">kW</text>
<text transform="translate(32.6,909.3) rotate(-90)" font-size="13.5" text-anchor="middle" fill="#262628" stroke="#fff" stroke-width="0.2">hPa (mbar)</text>
</g>
<g id="legend">
<rect x="1003.2" y="37.5" width="37.4" height="25.7" fill="#fff" stroke="#231f20" stroke-width="2.6"/>
<path d="M1004.6 157.5V151.6H1008.6 M1018.2 151.6H1027.8 M1037 151.6H1041.3V157.5 M1004.6 170.8V176.8H1008.6 M1018.2 176.8H1027.8 M1037 176.8H1041.3V170.8" fill="none" stroke="#231f20" stroke-width="2.8" stroke-linecap="round" stroke-linejoin="miter"/>
<text x="1002" y="82" font-size="15.3" fill="#1d1d35" textLength="163.5" lengthAdjust="spacingAndGlyphs" letter-spacing="0.4" stroke="#1d1d35" stroke-width="0.45">Useful working field</text>
<text x="1002" y="101.8" font-size="15.3" fill="#1d1d35" textLength="133.5" lengthAdjust="spacingAndGlyphs" letter-spacing="0.4" stroke="#1d1d35" stroke-width="0.45">for choosing the</text>
<text x="1002" y="120.3" font-size="15.3" fill="#1d1d35" textLength="55.9" lengthAdjust="spacingAndGlyphs" letter-spacing="0.4" stroke="#1d1d35" stroke-width="0.45">burner</text>
<text x="1002" y="198.3" font-size="15.3" fill="#1d1d35" textLength="145.5" lengthAdjust="spacingAndGlyphs" letter-spacing="0.4" stroke="#1d1d35" stroke-width="0.45">Modulation range</text>
<text x="1002" y="238.8" font-size="15.3" fill="#1d1d35" textLength="121.8" lengthAdjust="spacingAndGlyphs" letter-spacing="0.4" stroke="#1d1d35" stroke-width="0.45">Test conditions</text>
<text x="1002" y="257.6" font-size="15.3" fill="#1d1d35" textLength="114.6" lengthAdjust="spacingAndGlyphs" letter-spacing="0.4" stroke="#1d1d35" stroke-width="0.45">conforming to</text>
<text x="1002" y="277.3" font-size="15.3" fill="#1d1d35" textLength="45.6" lengthAdjust="spacingAndGlyphs" letter-spacing="0.4" stroke="#1d1d35" stroke-width="0.45">EN267</text>
<text x="1002" y="296.8" font-size="15.3" fill="#1d1d35" textLength="149.5" lengthAdjust="spacingAndGlyphs" letter-spacing="0.4" stroke="#1d1d35" stroke-width="0.45">Temperature: 20°C</text>
<text x="1002" y="316.5" font-size="15.3" fill="#1d1d35" textLength="125.5" lengthAdjust="spacingAndGlyphs" letter-spacing="0.4" stroke="#1d1d35" stroke-width="0.45">Pressure: 1013,5</text>
<text x="1002" y="336" font-size="15.3" fill="#1d1d35" textLength="42.3" lengthAdjust="spacingAndGlyphs" letter-spacing="0.4" stroke="#1d1d35" stroke-width="0.45">mbar</text>
<text x="1002" y="355.5" font-size="15.3" fill="#1d1d35" textLength="152.3" lengthAdjust="spacingAndGlyphs" letter-spacing="0.4" stroke="#1d1d35" stroke-width="0.45">Altitude: 0 m a.s.l.</text>
</g>
</svg>
</body></html>
